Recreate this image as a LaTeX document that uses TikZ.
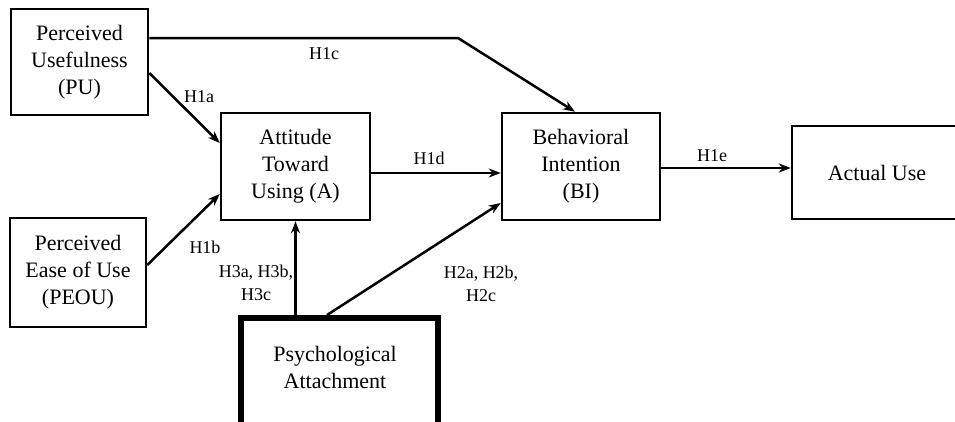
\documentclass[tikz,border=0pt]{standalone}
\usepackage{fontspec}
\setmainfont{Liberation Serif}
\usetikzlibrary{arrows.meta,fit}
\begin{document}
\begin{tikzpicture}[x=1pt,y=-1pt,
  box/.style={draw, line width=2.5pt, align=center, inner sep=0pt,
    font=\fontsize{22}{27}\selectfont},
  conn/.style={line width=2.5pt, -{Stealth[length=12pt,width=9pt]}},
  hyp/.style={font=\fontsize{18}{23}\selectfont, align=center, inner sep=0pt}]
\useasboundingbox (0,0) rectangle (955,421);
\fill[white] (0,0) rectangle (955,421);

% constructs
\node[box, minimum width=137pt, minimum height=106pt] (pu) at (79.5,62) {Perceived\\Usefulness\\(PU)};
\node[box, minimum width=136pt, minimum height=109pt] (peou) at (78,272.5) {Perceived\\Ease of Use\\(PEOU)};
\node[box, minimum width=149pt, minimum height=107pt] (att) at (295.5,166.5) {Attitude\\Toward\\Using (A)};
\node[box, minimum width=158pt, minimum height=107pt] (bi) at (581,166.5) {Behavioral\\Intention\\(BI)};
\node[box, minimum width=170pt, minimum height=93pt] (au) at (877,172.5) {Actual Use};
% thick moderator box, running past the lower edge
\node[draw, line width=6pt, inner sep=0pt, fit={(241,318) (438,432)}] (psy) {};
\node[box, draw=none] (psytext) at (335,367) {Psychological\\Attachment};

% paths
\coordinate (bend) at (458,38);
\draw[conn] ([yshift=24pt]pu.east) -- (bend) -- ([xshift=-6pt]bi.north);
\draw[conn] ([yshift=-11pt]pu.east) -- ([yshift=23.5pt]att.west);
\draw[conn] ([yshift=7.5pt]peou.east) -- ([yshift=-27.5pt]att.west);
\draw[conn] ([yshift=-6.5pt]att.east) -- ([yshift=-6.5pt]bi.west);
\draw[conn] ([yshift=-1.5pt]bi.east) -- ([yshift=4.5pt]au.west);
\draw[conn] (psy.north -| att.south) -- (att.south);
\draw[conn] ([xshift=-12.5pt]psy.north) -- ([yshift=-36.5pt]bi.west);

% hypothesis labels
\node[hyp] (h1c) at (324,54) {H1c};
\node[hyp] (h1a) at (199,97) {H1a};
\node[hyp] (h1b) at (205,247) {H1b};
\node[hyp] (h1d) at (429,158) {H1d};
\node[hyp] (h1e) at (712,156) {H1e};
\node[hyp] (h3) at (256,283) {H3a, H3b,\\H3c};
\node[hyp] (h2) at (481,284) {H2a, H2b,\\H2c};
\end{tikzpicture}
\end{document}
